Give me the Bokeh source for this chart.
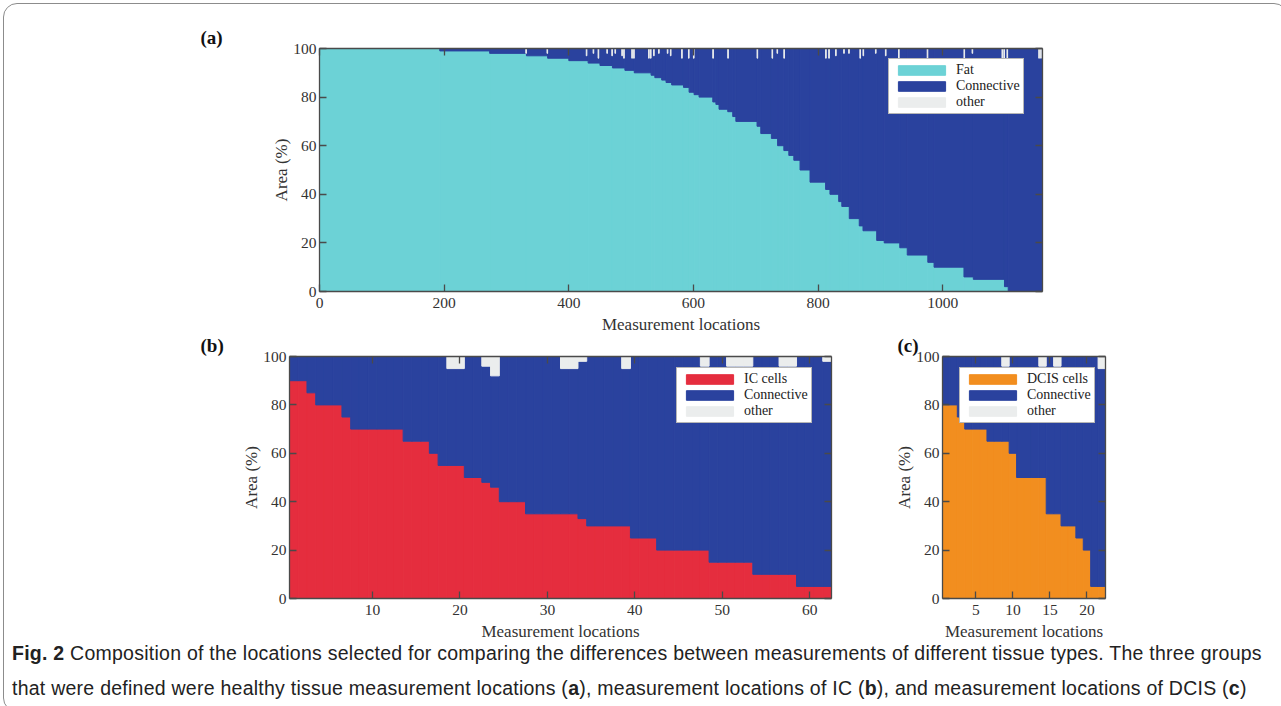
from bokeh.plotting import figure
from bokeh.models import (Legend, LegendItem, LinearAxis, FixedTicker, Div,
                          Range1d, CustomJSTickFormatter)
from bokeh.layouts import column, row
from bokeh.embed import file_html
from bokeh.resources import INLINE
import numpy as np

# ---------------- data ----------------
# (a) healthy tissue: fat percentage per run of sorted locations (run ends at location index)
a_seg_end = [193, 273, 332, 366, 400, 431, 450, 470, 490, 505,
             532, 538, 549, 556, 565, 584, 593, 601, 609, 631,
             636, 641, 655, 663, 668, 702, 708, 725, 735, 745,
             753, 761, 771, 787, 812, 819, 833, 838, 850, 866,
             872, 894, 906, 931, 943, 976, 986, 1034, 1049, 1099,
             1105, 1160]
a_fat = [100, 99, 98, 97, 96, 95, 94, 93, 92, 91,
         90, 89, 88, 87, 86, 85, 84, 82, 81, 80,
         78, 77, 75, 74, 72, 70, 68, 65, 63, 60,
         58, 56, 54, 50, 45, 42, 40, 37, 35, 30,
         27, 25, 21, 20, 18, 15, 12, 10, 6, 5,
         2, 0]
a_other_loc = [332, 366, 429, 440, 448, 462, 470,
               475, 486, 489, 502, 505, 529, 532, 537, 545, 559,
               564, 582, 593, 601, 632, 656, 703, 727, 735, 746,
               813, 818, 829, 842, 850, 868, 873, 893, 909, 930,
               976, 1035, 1048, 1096, 1099, 1104, 1155, 1158]
a_other_pct = [2, 2, 3, 2, 4, 2, 3,
               2, 3, 4, 4, 4, 4, 4, 3, 2, 2,
               3, 4, 4, 4, 4, 4, 4, 4, 2, 4,
               4, 4, 3, 2, 2, 4, 3, 2, 3, 4,
               4, 4, 2, 4, 4, 4, 4, 4]
a_n = 1160
a_xticks = [0, 200, 400, 600, 800, 1000]

# (b) IC locations
ic_cells = [90, 90, 85, 80, 80, 80, 75, 70, 70, 70, 70, 70, 70,
            65, 65, 65, 60, 55, 55, 55, 50, 50, 48, 46,
            40, 40, 40, 35, 35, 35, 35, 35, 35, 33,
            30, 30, 30, 30, 30, 25, 25, 25,
            20, 20, 20, 20, 20, 20, 15, 15, 15, 15, 15,
            10, 10, 10, 10, 10, 5, 5, 5, 5]
ic_other = [0, 0, 0, 0, 0, 0, 0, 0, 0, 0,
            0, 0, 0, 0, 0, 0, 0, 0, 5, 5,
            0, 0, 4, 8, 0, 0, 0, 0, 0, 0,
            0, 5, 5, 2, 0, 0, 0, 0, 5, 0,
            0, 0, 0, 0, 0, 0, 0, 4, 0, 0,
            4, 4, 4, 0, 0, 0, 4, 4, 0, 0,
            0, 2]
b_xticks = [10, 20, 30, 40, 50, 60]

# (c) DCIS locations
dcis_cells = [80, 80, 75, 70, 70, 70, 65, 65, 65, 60,
              50, 50, 50, 50, 35, 35, 30, 30, 25, 20,
              5, 5]
dcis_other = [0, 0, 0, 0, 0, 0, 0, 0, 4, 0,
              0, 0, 0, 4, 0, 4, 0, 0, 0, 0,
              0, 5]
c_xticks = [5, 10, 15, 20]

y_ticks = [0, 20, 40, 60, 80, 100]

# ---------------- style ----------------
FAT_C = "#6CD2D6"
CONN_C = "#2A429E"
OTHER_C = "#EBEDED"
IC_C = "#E52D3E"
DCIS_C = "#F28E1F"
AX_C = "#4a4a4a"
TXT_C = "#333333"
SERIF = "Liberation Serif"


def make_fig(w, h, xr, bl, br, bt, bb, label, label_offset):
    p = figure(width=w, height=h, x_range=Range1d(*xr), y_range=Range1d(0, 100),
               output_backend="svg", toolbar_location=None,
               min_border_left=bl, min_border_right=br,
               min_border_top=bt, min_border_bottom=bb)
    p.xgrid.visible = False
    p.ygrid.visible = False
    p.outline_line_color = None
    p.border_fill_alpha = 0
    p.title.text = label
    p.title.align = "left"
    p.title.offset = label_offset
    p.title.standoff = 2
    p.title.text_font = SERIF
    p.title.text_font_size = "19px"
    p.title.text_font_style = "bold"
    p.title.text_color = "#111111"
    return p


def style_axes(p, xticks):
    p.add_layout(LinearAxis(), "above")
    p.add_layout(LinearAxis(), "right")
    for ax in p.below + p.above:
        ax.ticker = FixedTicker(ticks=xticks)
    for ax in p.left + p.right:
        ax.ticker = FixedTicker(ticks=y_ticks)
    for ax in p.below + p.above + p.left + p.right:
        ax.axis_line_color = AX_C
        ax.axis_line_width = 1.3
        ax.major_tick_line_color = AX_C
        ax.major_tick_line_width = 1.3
        ax.major_tick_in = 7
        ax.major_tick_out = 0
        ax.minor_tick_line_color = None
        ax.major_label_text_font = SERIF
        ax.major_label_text_font_size = "15.5px"
        ax.major_label_text_color = TXT_C
        ax.axis_label_text_font = SERIF
        ax.axis_label_text_font_size = "17px"
        ax.axis_label_text_font_style = "normal"
        ax.axis_label_text_color = TXT_C
        ax.axis_label_standoff = 4
    for ax in p.above + p.right:
        ax.formatter = CustomJSTickFormatter(code="return ''")
        ax.major_label_standoff = 0
        ax.major_label_text_font_size = "0px"
    p.below[0].major_label_standoff = 6
    p.left[0].major_label_standoff = 3
    p.left[0].axis_label_standoff = -1
    p.below[0].axis_label = "Measurement locations"
    p.left[0].axis_label = "Area (%)"


def add_legend(p, items, loc):
    lg = Legend(items=[LegendItem(label=t, renderers=[r]) for t, r in items],
                location=loc, orientation="vertical")
    lg.border_line_color = "#6e6e6e"
    lg.border_line_width = 1.2
    lg.padding = 3
    lg.spacing = 0
    lg.margin = 0
    lg.glyph_width = 59
    lg.glyph_height = 12
    lg.label_height = 12
    lg.label_standoff = 5
    lg.label_text_font = SERIF
    lg.label_text_font_size = "14px"
    lg.label_text_color = "#222222"
    lg.background_fill_alpha = 1
    p.add_layout(lg, "center")


# ---------------- panel (a) ----------------
pa = make_fig(1281, 341, (0, a_n), 319, 239, 48, 50, "(a)", -119)
a_seg_start = [0] + a_seg_end[:-1]
r_fat = pa.quad(left=a_seg_start, right=a_seg_end, bottom=0, top=a_fat,
                fill_color=FAT_C, line_color=FAT_C, line_width=1)
r_conn = pa.quad(left=a_seg_start, right=a_seg_end, bottom=a_fat, top=100,
                 fill_color=CONN_C, line_color=CONN_C, line_width=1)
a_loc = np.array(a_other_loc, dtype=float)
r_oth = pa.quad(left=a_loc - 1, right=a_loc, bottom=100 - np.array(a_other_pct), top=100,
                fill_color=OTHER_C, line_color=OTHER_C, line_width=1)
style_axes(pa, a_xticks)
add_legend(pa, [("Fat", r_fat), ("Connective", r_conn), ("other", r_oth)], (569, 177))


# ---------------- panels (b) and (c) ----------------
def bar_panel(w, bl, br, cells, other, color, name, xticks, leg_loc, lab, lab_off):
    n = len(cells)
    p = make_fig(w, 315, (0.5, n + 0.5), bl, br, 26, 47, lab, lab_off)
    x = np.arange(1, n + 1)
    cells = np.array(cells, dtype=float)
    other = np.array(other, dtype=float)
    r_c = p.vbar(x=x, width=1, bottom=0, top=cells,
                 fill_color=color, line_color=color, line_width=1)
    r_n = p.vbar(x=x, width=1, bottom=cells, top=100 - other,
                 fill_color=CONN_C, line_color=CONN_C, line_width=1)
    m = other > 0
    r_o = p.vbar(x=x[m], width=1, bottom=100 - other[m], top=100,
                 fill_color=OTHER_C, line_color=OTHER_C, line_width=1)
    style_axes(p, xticks)
    add_legend(p, [(name, r_c), ("Connective", r_n), ("other", r_o)], leg_loc)
    return p


pb = bar_panel(860, 289, 29, ic_cells, ic_other, IC_C, "IC cells", b_xticks,
               (387, 175), "(b)", -89)
pc = bar_panel(421, 82, 176, dcis_cells, dcis_other, DCIS_C, "DCIS cells", c_xticks,
               (17, 175), "(c)", -45)

# ---------------- caption ----------------
cap_html = (
    '<div style="position:relative;top:-14px;padding-left:7px;line-height:35px;'
    "font-family:'Liberation Sans',sans-serif;font-size:19.5px;letter-spacing:0.25px;"
    'color:#222;white-space:nowrap;">'
    '<b>Fig. 2</b> Composition of the locations selected for comparing the differences '
    'between measurements of different tissue types. The three groups<br>'
    'that were defined were healthy tissue measurement locations (<b>a</b>), measurement '
    'locations of IC (<b>b</b>), and measurement locations of DCIS (<b>c</b>)</div>'
)
cap = Div(text=cap_html, width=1281, height=58)

row2 = row(pb, pc, styles={"margin-top": "-11px"})
frame_css = (":host { position: relative; } "
             ":host::after { content: ''; position: absolute; left: 3px; top: 3px; "
             "right: 3px; bottom: 1px; border: 1px solid #8c8c8c; border-radius: 14px; "
             "pointer-events: none; z-index: 100; }")
layout = column(pa, row2, cap, stylesheets=[frame_css])
open("out.html", "w").write(file_html(layout, INLINE))
